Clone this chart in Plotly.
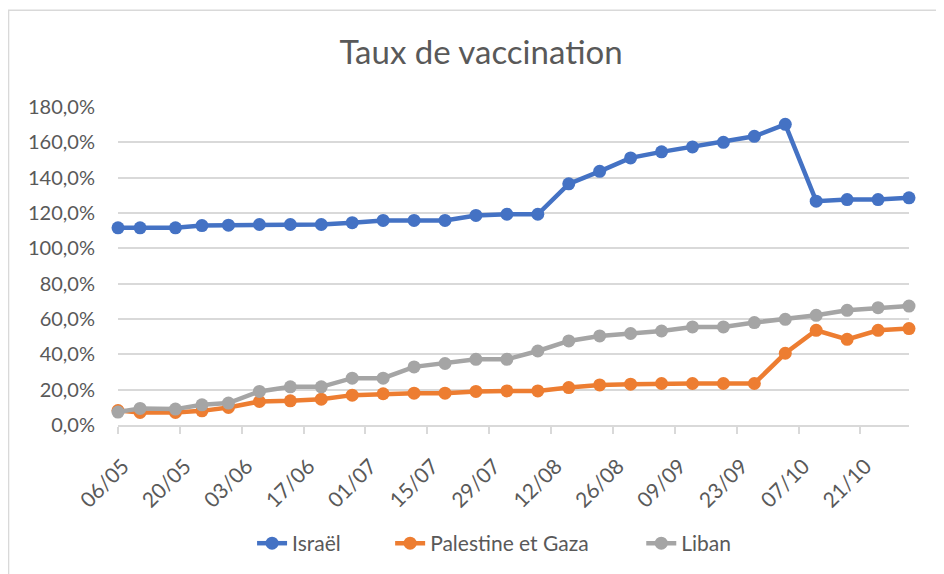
import plotly.graph_objects as go

dates = ["2021-05-06", "2021-05-11", "2021-05-19", "2021-05-25", "2021-05-31",
         "2021-06-07", "2021-06-14", "2021-06-21", "2021-06-28", "2021-07-05",
         "2021-07-12", "2021-07-19", "2021-07-26", "2021-08-02", "2021-08-09",
         "2021-08-16", "2021-08-23", "2021-08-30", "2021-09-06", "2021-09-13",
         "2021-09-20", "2021-09-27", "2021-10-04", "2021-10-11", "2021-10-18",
         "2021-10-25", "2021-11-01"]

israel = [111.6, 111.6, 111.6, 112.9, 113.1, 113.5, 113.5, 113.5, 114.5, 115.8,
          115.8, 115.8, 118.6, 119.3, 119.3, 136.5, 143.6, 151.2, 154.6, 157.4,
          160.0, 163.4, 170.2, 126.7, 127.6, 127.6, 128.6]
palestine = [8.2, 7.1, 7.1, 8.0, 9.9, 13.3, 13.7, 14.6, 16.9, 17.7,
             18.0, 18.0, 19.0, 19.3, 19.3, 21.2, 22.7, 23.1, 23.5, 23.5,
             23.5, 23.5, 40.6, 53.6, 48.5, 53.6, 54.6]
liban = [7.3, 9.4, 9.0, 11.4, 12.4, 19.0, 21.6, 21.6, 26.5, 26.5,
         32.9, 34.8, 37.2, 37.2, 41.9, 47.6, 50.4, 51.8, 53.2, 55.5,
         55.5, 58.0, 59.8, 62.1, 64.9, 66.4, 67.3]

series = [("Israël", israel, "#4472C4", "legend"),
          ("Palestine et Gaza", palestine, "#ED7D31", "legend2"),
          ("Liban", liban, "#A5A5A5", "legend3")]

FONT = "Lato, Open Sans, sans-serif"
GREY_TXT = "#595959"
GRID = "#D9D9D9"

fig = go.Figure()
for name, vals, color, leg in series:
    fig.add_trace(go.Scatter(
        x=dates, y=[v / 100 for v in vals], name=name,
        mode="lines+markers",
        line=dict(color=color, width=4.5),
        marker=dict(color=color, size=13),
        cliponaxis=False,
        legend=leg,
    ))

# page has an 8px body margin; figure sized to fit the window
OFF = 8
W, H = 936, 566
L, T = 118 - OFF, 107 - OFF
pw, ph = 790.6, 318.6
R = W - L - pw
B = H - T - ph


def px_x(x):  # page x -> paper
    return (x - OFF - L) / pw


def px_y(y):  # page y -> paper
    return (T + ph - (y - OFF)) / ph


def leg(xpage):
    return dict(orientation="h", x=px_x(xpage), xanchor="left",
                y=px_y(543), yanchor="middle",
                font=dict(size=21, color=GREY_TXT, family=FONT),
                bgcolor="rgba(0,0,0,0)", borderwidth=0)


fig.update_layout(
    width=W, height=H,
    margin=dict(l=L, r=R, t=T, b=B),
    paper_bgcolor="white", plot_bgcolor="white",
    separators=", ",
    font=dict(family=FONT, color=GREY_TXT, size=20),
    title=dict(text="Taux de vaccination", x=(481 - OFF) / W, xanchor="center",
               y=1 - (52 - OFF) / H, yanchor="middle", yref="container",
               font=dict(size=33, color=GREY_TXT, family=FONT)),
    showlegend=True,
    legend=leg(252),
    legend2=leg(390),
    legend3=leg(641),
    shapes=[dict(type="rect", xref="paper", yref="paper",
                 x0=px_x(8.6), x1=px_x(980), y0=px_y(620), y1=px_y(10),
                 line=dict(color="#D9D9D9", width=1.5), fillcolor="rgba(0,0,0,0)",
                 layer="below")],
)

fig.update_xaxes(
    type="date", range=["2021-05-06", "2021-11-01"],
    tick0="2021-05-06", dtick=14 * 86400000, tickformat="%d/%m",
    tickangle=-45, ticks="outside", ticklen=7, tickcolor=GRID, tickwidth=1.5,
    showline=True, linecolor=GRID, linewidth=1.5,
    showgrid=False, zeroline=False,
    ticklabelstandoff=12, ticklabelshift=5,
    tickfont=dict(size=21, color=GREY_TXT, family=FONT),
)
fig.update_yaxes(
    range=[0, 1.8], dtick=0.2, tickformat=".1%",
    showgrid=True, gridcolor=GRID, gridwidth=1.5,
    zeroline=False, showline=False, ticks="",
    ticklabelstandoff=22,
    tickfont=dict(size=20, color=GREY_TXT, family=FONT),
)

fig.write_html("out.html")
